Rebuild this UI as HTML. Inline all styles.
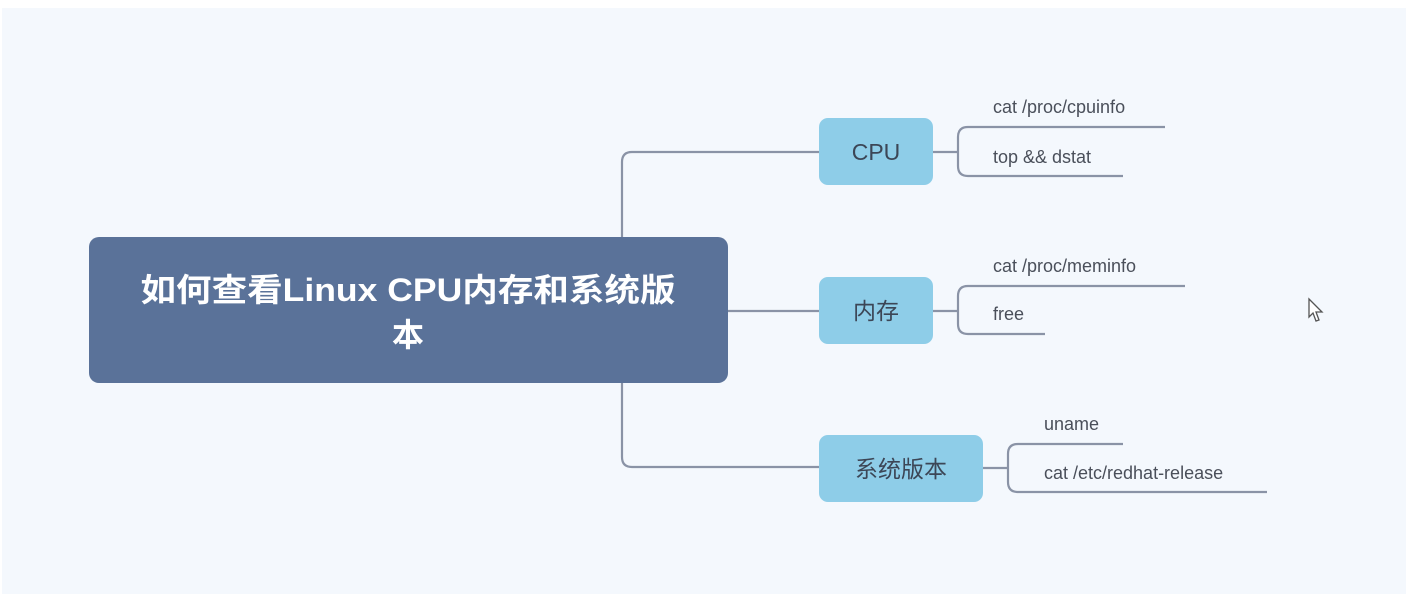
<!DOCTYPE html>
<html><head><meta charset="utf-8"><style>
html,body{margin:0;padding:0;background:#fff;}
svg{display:block;}
text{font-family:"Liberation Sans","Noto Sans CJK SC",sans-serif;}
</style></head><body>
<svg width="1408" height="596" viewBox="0 0 1408 596">
<rect x="0" y="0" width="1408" height="596" fill="#fff"/>
<rect x="2" y="8" width="1404" height="586" fill="#f4f8fd"/>
<g fill="none" stroke="#8a93a6" stroke-width="2.2">
<path d="M622 237 V162 Q622 152 632 152 H820"/>
<path d="M622 383 V457 Q622 467 632 467 H820"/>
<path d="M728 311 H820"/>
<path d="M933 152 H958"/>
<path d="M1165 127 H968 Q958 127 958 137 V166 Q958 176 968 176 H1123"/>
<path d="M933 311 H958"/>
<path d="M1185 286 H968 Q958 286 958 296 V324 Q958 334 968 334 H1045"/>
<path d="M983 468 H1008"/>
<path d="M1123 444 H1018 Q1008 444 1008 454 V482 Q1008 492 1018 492 H1267"/>
</g>
<rect x="89" y="237" width="639" height="146" rx="10" fill="#5a7299"/>
<text x="408" y="301" fill="#fff" font-size="32" font-weight="bold" text-anchor="middle" textLength="535" lengthAdjust="spacingAndGlyphs">如何查看Linux CPU内存和系统版</text>
<text x="408" y="346" fill="#fff" font-size="32" font-weight="bold" text-anchor="middle">本</text>
<rect x="819" y="118" width="114" height="67" rx="9" fill="#8ecde8"/>
<rect x="819" y="277" width="114" height="67" rx="9" fill="#8ecde8"/>
<rect x="819" y="435" width="164" height="67" rx="9" fill="#8ecde8"/>
<g fill="#3c4656" font-size="23" text-anchor="middle">
<text x="876" y="160">CPU</text>
<text x="876" y="319">内存</text>
<text x="901" y="477">系统版本</text>
</g>
<g fill="#4a4f5a" font-size="18">
<text x="993" y="113">cat /proc/cpuinfo</text>
<text x="993" y="163">top &amp;&amp; dstat</text>
<text x="993" y="272">cat /proc/meminfo</text>
<text x="993" y="320">free</text>
<text x="1044" y="430">uname</text>
<text x="1044" y="479">cat /etc/redhat-release</text>
</g>
<path d="M1309 299 L1309 317 L1313 313 L1316 321 L1319 320 L1316 312 L1322 312 Z" fill="#fff" stroke="#555" stroke-width="1.3"/>
</svg>
</body></html>
